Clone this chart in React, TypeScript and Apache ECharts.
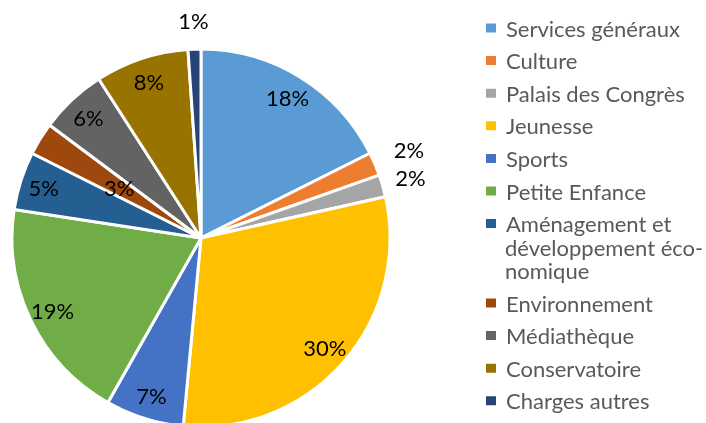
import React, { useEffect, useRef } from "react";
import * as echarts from "echarts";

const categories = [
  "Services généraux",
  "Culture",
  "Palais des Congrès",
  "Jeunesse",
  "Sports",
  "Petite Enfance",
  "Aménagement et développement économique",
  "Environnement",
  "Médiathèque",
  "Conservatoire",
  "Charges autres",
];
const values = [17.6, 2.0, 1.9, 30.0, 6.7, 19.2, 5.0, 2.8, 5.7, 8.0, 1.1];
const colors = [
  "#5B9BD5", "#ED7D31", "#A5A5A5", "#FFC000", "#4472C4", "#70AD47",
  "#255E91", "#9E480E", "#636363", "#997300", "#264478",
];
const outsideLabels = ["Palais des Congrès", "Charges autres"];
const farLabels = ["Culture"];
const deepLabels = ["Environnement"];
const legendFirst = categories.slice(0, 7);
const legendSecond = categories.slice(7);

const FONT = "Lato";
const CX = 201;
const CY = 238;
const R = 189;

export default function App() {
  const ref = useRef<HTMLDivElement>(null);
  useEffect(() => {
    if (!ref.current) return;
    const chart = echarts.init(ref.current, undefined, { renderer: "svg" });
    const fmt = (p: any) => `${Math.round(p.percent)}%`;
    const labelStyle = { color: "#000", fontFamily: FONT, fontSize: 22 };
    const ghost = (r0: number, r1: number, pick: (n: string) => boolean) => ({
      type: "pie",
      center: [CX, CY],
      radius: [r0, r1],
      startAngle: 90,
      clockwise: true,
      silent: true,
      avoidLabelOverlap: false,
      itemStyle: { color: "rgba(0,0,0,0)", borderWidth: 0 },
      labelLine: { show: false },
      emphasis: { disabled: true },
      label: { show: true, position: "inside", formatter: fmt, ...labelStyle },
      data: categories.map((n, i) => ({
        name: n,
        value: values[i],
        label: { show: pick(n) },
      })),
    });
    const legendCommon = {
      orient: "vertical",
      left: 484,
      padding: 0,
      itemWidth: 12,
      itemHeight: 11,
      itemGap: 10.6,
      icon: "rect",
      selectedMode: false,
      textStyle: {
        color: "#595959",
        fontFamily: FONT,
        fontSize: 22,
        lineHeight: 22,
        padding: [0, 0, 0, 4],
      },
    };
    chart.setOption({
      animation: false,
      color: colors,
      legend: [
        {
          ...legendCommon,
          top: 17,
          data: legendFirst,
          formatter: (n: string) =>
            n.startsWith("Aménagement") ? "Aménagement et" : n,
        },
        { ...legendCommon, top: 292, data: legendSecond },
      ],
      graphic: [
        {
          type: "text",
          left: 505,
          top: 236,
          style: {
            text: "développement éco-\nnomique",
            fill: "#595959",
            font: `22px ${FONT}`,
            lineHeight: 23,
          },
        },
      ],
      series: [
        {
          type: "pie",
          center: [CX, CY],
          radius: [0, R],
          startAngle: 90,
          clockwise: true,
          itemStyle: { borderColor: "#fff", borderWidth: 3 },
          label: { show: false },
          labelLine: { show: false },
          emphasis: { disabled: true },
          data: categories.map((n, i) => ({
            name: n,
            value: values[i],
            itemStyle: { color: colors[i] },
          })),
        },
        ghost(
          137,
          187,
          (n) =>
            !outsideLabels.includes(n) &&
            !deepLabels.includes(n) &&
            !farLabels.includes(n)
        ),
        ghost(0, 186, (n) => deepLabels.includes(n)),
        ghost(195, 235, (n) => outsideLabels.includes(n)),
        ghost(202, 244, (n) => farLabels.includes(n)),
      ],
    });
    return () => chart.dispose();
  }, []);
  return (
    <div
      ref={ref}
      style={{ position: "fixed", left: 0, top: 0, width: 706, height: 423 }}
    />
  );
}
